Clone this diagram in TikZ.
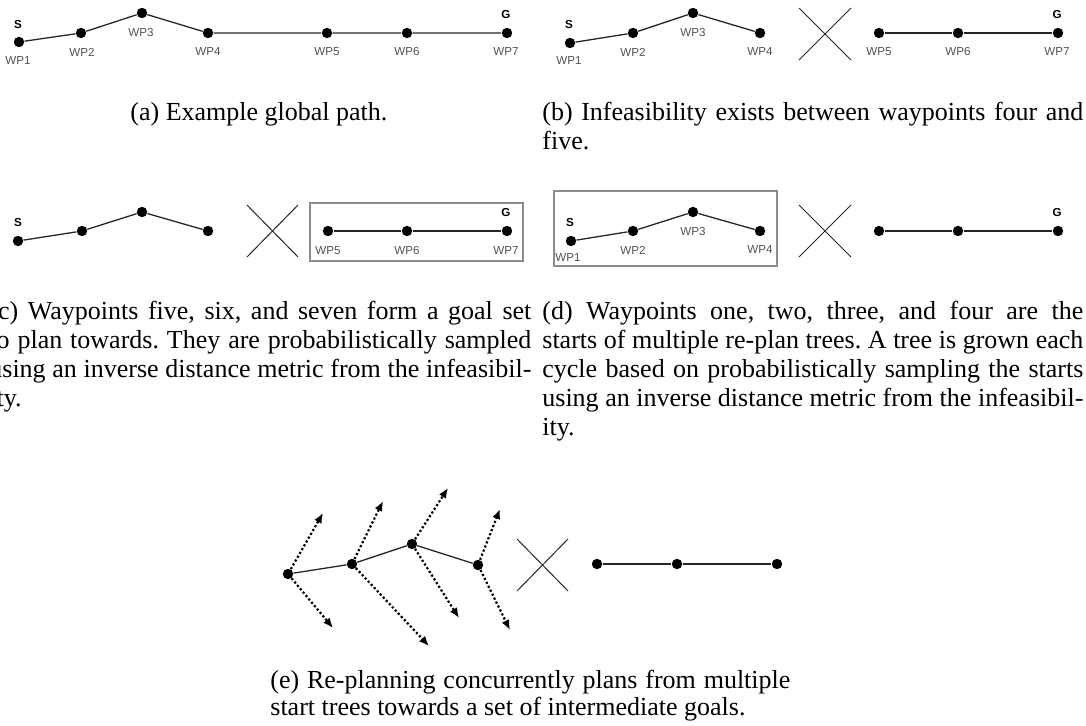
\documentclass[tikz,border=0pt]{standalone}
\usepackage{fontspec}
\setmainfont{Liberation Serif}
\newfontfamily\labelfont{Liberation Sans}
\usetikzlibrary{arrows.meta}

\begin{document}
\frenchspacing
\begin{tikzpicture}[x=0.5pt,y=-0.5pt,
  wp/.style={circle,fill=black,inner sep=0pt,minimum size=5.2pt},
  edge/.style={line width=0.65pt,draw=black!85},
  wplabel/.style={font=\labelfont\fontsize{5.8}{6}\selectfont,text=black!68,inner sep=0pt},
  endlabel/.style={font=\labelfont\bfseries\fontsize{5.8}{6}\selectfont,inner sep=0pt},
  crossline/.style={line width=0.5pt,draw=black!85},
  setbox/.style={draw=black!45,line width=0.6pt},
  growarrow/.style={line width=1.1pt,dash pattern=on 1.1pt off 1.1pt,-{Latex[length=5pt,width=4.2pt]}},
  captext/.style={font=\fontsize{13}{15}\selectfont,inner sep=0pt,anchor=base west},
]
\useasboundingbox (0,0) rectangle (1086,726);
\clip (0,0) rectangle (1086,726);

% ---------- (a) global path ----------
\node[wp] (a1) at (19,42) {};
\node[wp] (a2) at (81,33) {};
\node[wp] (a3) at (142,13) {};
\node[wp] (a4) at (208,33) {};
\node[wp] (a5) at (327,33) {};
\node[wp] (a6) at (407,33) {};
\node[wp] (a7) at (507,33) {};
\draw[edge] (a1)--(a2)--(a3)--(a4)--(a5)--(a6)--(a7);
\node[endlabel] (aS) at (18,25) {S};
\node[endlabel] (aG) at (506,15) {G};
\node[wplabel] (a1l) at (18,61) {WP1};
\node[wplabel] (a2l) at (82,52) {WP2};
\node[wplabel] (a3l) at (141,33) {WP3};
\node[wplabel] (a4l) at (208,52) {WP4};
\node[wplabel] (a5l) at (327,52) {WP5};
\node[wplabel] (a6l) at (407,52) {WP6};
\node[wplabel] (a7l) at (506,52) {WP7};

% ---------- (b) infeasible segment ----------
\node[wp] (b1) at (570,43) {};
\node[wp] (b2) at (633,33) {};
\node[wp] (b3) at (693,13) {};
\node[wp] (b4) at (760,33) {};
\node[wp] (b5) at (879,33) {};
\node[wp] (b6) at (958,33) {};
\node[wp] (b7) at (1058,33) {};
\draw[edge] (b1)--(b2)--(b3)--(b4);
\draw[edge] (b5)--(b6)--(b7);
\coordinate (bx1) at (799,8);  \coordinate (bx2) at (851,60);
\coordinate (bx3) at (799,60); \coordinate (bx4) at (851,8);
\draw[crossline] (bx1)--(bx2) (bx3)--(bx4);
\node[endlabel] (bS) at (569,25) {S};
\node[endlabel] (bG) at (1057,15) {G};
\node[wplabel] (b1l) at (569,61) {WP1};
\node[wplabel] (b2l) at (633,52) {WP2};
\node[wplabel] (b3l) at (693,33) {WP3};
\node[wplabel] (b4l) at (760,52) {WP4};
\node[wplabel] (b5l) at (879,52) {WP5};
\node[wplabel] (b6l) at (958,52) {WP6};
\node[wplabel] (b7l) at (1057,52) {WP7};

% ---------- (c) goal set ----------
\node[wp] (c1) at (18,241) {};
\node[wp] (c2) at (82,231) {};
\node[wp] (c3) at (142,212) {};
\node[wp] (c4) at (208,231) {};
\node[wp] (c5) at (328,231) {};
\node[wp] (c6) at (407,231) {};
\node[wp] (c7) at (507,231) {};
\draw[edge] (c1)--(c2)--(c3)--(c4);
\draw[edge] (c5)--(c6)--(c7);
\coordinate (cx1) at (247,205); \coordinate (cx2) at (298,257);
\coordinate (cx3) at (247,257); \coordinate (cx4) at (298,205);
\draw[crossline] (cx1)--(cx2) (cx3)--(cx4);
\draw[setbox] (310,203) rectangle (523,261);
\node[endlabel] (cS) at (18,223) {S};
\node[endlabel] (cG) at (506,213) {G};
\node[wplabel] (c5l) at (328,251) {WP5};
\node[wplabel] (c6l) at (407,251) {WP6};
\node[wplabel] (c7l) at (506,251) {WP7};

% ---------- (d) start set ----------
\node[wp] (d1) at (571,241) {};
\node[wp] (d2) at (633,231) {};
\node[wp] (d3) at (693,212) {};
\node[wp] (d4) at (760,231) {};
\node[wp] (d5) at (879,231) {};
\node[wp] (d6) at (958,231) {};
\node[wp] (d7) at (1058,231) {};
\draw[edge] (d1)--(d2)--(d3)--(d4);
\draw[edge] (d5)--(d6)--(d7);
\coordinate (dx1) at (799,205); \coordinate (dx2) at (851,257);
\coordinate (dx3) at (799,257); \coordinate (dx4) at (851,205);
\draw[crossline] (dx1)--(dx2) (dx3)--(dx4);
\draw[setbox] (554,191) rectangle (777,266);
\node[endlabel] (dS) at (570,223) {S};
\node[endlabel] (dG) at (1057,213) {G};
\node[wplabel] (d1l) at (568,258) {WP1};
\node[wplabel] (d2l) at (633,250) {WP2};
\node[wplabel] (d3l) at (693,232) {WP3};
\node[wplabel] (d4l) at (760,250) {WP4};

% ---------- (e) concurrent re-planning ----------
\node[wp] (e1) at (288,574) {};
\node[wp] (e2) at (352,564) {};
\node[wp] (e3) at (412,544) {};
\node[wp] (e4) at (478,565) {};
\node[wp] (e5) at (597,564) {};
\node[wp] (e6) at (677,564) {};
\node[wp] (e7) at (777,564) {};
\draw[edge] (e1)--(e2)--(e3)--(e4);
\draw[edge] (e5)--(e6)--(e7);
\coordinate (ex1) at (517,539); \coordinate (ex2) at (568,591);
\coordinate (ex3) at (517,591); \coordinate (ex4) at (568,539);
\draw[crossline] (ex1)--(ex2) (ex3)--(ex4);
\coordinate (e1u) at (323,513); \coordinate (e1d) at (333,628);
\coordinate (e2u) at (383,501); \coordinate (e2d) at (429,646);
\coordinate (e3u) at (448,488); \coordinate (e3d) at (459,618);
\coordinate (e4u) at (500,509); \coordinate (e4d) at (510,630);
\draw[growarrow] (e1)--(e1u);
\draw[growarrow] (e1)--(e1d);
\draw[growarrow] (e2)--(e2u);
\draw[growarrow] (e2)--(e2d);
\draw[growarrow] (e3)--(e3u);
\draw[growarrow] (e3)--(e3d);
\draw[growarrow] (e4)--(e4u);
\draw[growarrow] (e4)--(e4d);

% ---------- captions ----------
\node[captext] (capa) at (130,121) {(a) Example global path.};
\node[captext] (capb1) at (542,121) {\makebox[270.5pt][s]{(b) Infeasibility exists between waypoints four and}};
\node[captext] (capb2) at (542,150) {five.};

\node[captext] (capc1) at (-11,320) {\makebox[271pt][s]{(c) Waypoints five, six, and seven form a goal set}};
\node[captext] (capc2) at (-11,349) {\makebox[271pt][s]{to plan towards. They are probabilistically sampled}};
\node[captext] (capc3) at (-11,378) {\makebox[271pt][s]{using an inverse distance metric from the infeasibil-}};
\node[captext] (capc4) at (-11,407) {ity.};

\node[captext] (capd1) at (542,320) {\makebox[270.5pt][s]{(d) Waypoints one, two, three, and four are the}};
\node[captext] (capd2) at (542,349) {\makebox[270.5pt][s]{starts of multiple re-plan trees. A tree is grown each}};
\node[captext] (capd3) at (542,378) {\makebox[270.5pt][s]{cycle based on probabilistically sampling the starts}};
\node[captext] (capd4) at (542,407) {\makebox[270.5pt][s]{using an inverse distance metric from the infeasibil-}};
\node[captext] (capd5) at (542,436) {ity.};

\node[captext] (cape1) at (270,688) {\makebox[260pt][s]{(e) Re-planning concurrently plans from multiple}};
\node[captext] (cape2) at (270,715) {start trees towards a set of intermediate goals.};
\end{tikzpicture}
\end{document}
